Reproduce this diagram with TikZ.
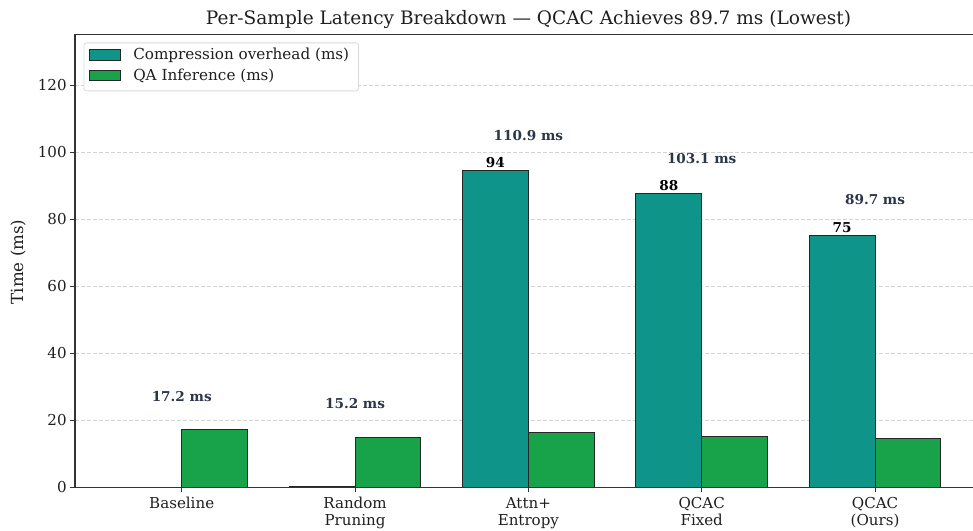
\documentclass[tikz,border=0pt]{standalone}
\usepackage{fontspec}
\setmainfont{DejaVu Serif}
\definecolor{tealbar}{HTML}{0E9488}
\definecolor{greenbar}{HTML}{18A34A}
\definecolor{totlab}{HTML}{2B3648}
\definecolor{gridc}{HTML}{D4D4D4}
\definecolor{spinec}{HTML}{333333}
\begin{document}
\begin{tikzpicture}[x=0.75pt,y=0.75pt,
  bar/.style={draw=black!85,line width=0.7pt},
  comp/.style={bar,fill=tealbar},
  qa/.style={bar,fill=greenbar},
  gridline/.style={draw=gridc,dashed,dash pattern=on 3pt off 1.5pt,line width=0.6pt},
  ticklab/.style={font=\fontsize{11.3}{13}\selectfont,text=black!88},
  totlabel/.style={font=\bfseries\fontsize{10.2}{12}\selectfont,text=totlab,anchor=base},
  vallabel/.style={font=\bfseries\fontsize{10.2}{12}\selectfont,text=black,anchor=base},
  xlab/.style={font=\fontsize{11.3}{12.8}\selectfont,text=black!88,align=center,anchor=north,inner sep=0pt}]
\useasboundingbox (0,0) rectangle (973,531);
\clip (0,0) rectangle (973,531);
\begin{scope}[shift={(181.7,43.7)},x=130pt,y=2.5125pt]
  % grid
  \foreach \v in {20,40,...,120}{\draw[gridline] (-0.616,\v) -- (4.62,\v);}
  % bars
  \draw[comp] (-0.38,0) rectangle (0,0);
  \draw[qa] (0,0) rectangle (0.38,17.2);
  \draw[comp] (0.62,0) rectangle (1,0.2);
  \draw[qa] (1,0) rectangle (1.38,15.0);
  \draw[comp] (1.62,0) rectangle (2,94.5);
  \draw[qa] (2,0) rectangle (2.38,16.4);
  \draw[comp] (2.62,0) rectangle (3,87.8);
  \draw[qa] (3,0) rectangle (3.38,15.3);
  \draw[comp] (3.62,0) rectangle (4,75.2);
  \draw[qa] (4,0) rectangle (4.38,14.5);
  % value labels
  \node[vallabel] (v2) at (1.81,95.4) {94};
  \node[vallabel] (v3) at (2.81,88.7) {88};
  \node[vallabel] (v4) at (3.81,76.1) {75};
  % totals
  \node[totlabel] (t0) at (0,25.6) {17.2 ms};
  \node[totlabel] (t1) at (1,23.5) {15.2 ms};
  \node[totlabel] (t2) at (2,103.4) {110.9 ms};
  \node[totlabel] (t3) at (3,96.6) {103.1 ms};
  \node[totlabel] (t4) at (4,84.3) {89.7 ms};
  % spines
  \draw[spinec,line width=0.9pt] (-0.616,135.2) -- (-0.616,0) -- (4.62,0);
  \draw[spinec,line width=0.9pt] (-0.616,135.2) -- (4.62,135.2);
  % y ticks
  \foreach \v in {0,20,...,120}{
    \draw[spinec,line width=0.7pt] (-0.616,\v) -- ++(-3.5pt,0);
    \node[ticklab,anchor=east,inner sep=0pt] at ([xshift=-6pt]-0.616,\v) {\v};
  }
  % x ticks
  \foreach \i in {0,...,4}{\draw[spinec,line width=0.7pt] (\i,0) -- ++(0,-3.5pt);}
  \node[xlab] (x0) at ([yshift=-7.3pt]0,0) {Baseline};
  \node[xlab] (x1) at ([yshift=-7.3pt]1,0) {Random\\Pruning};
  \node[xlab] (x2) at ([yshift=-7.3pt]2,0) {Attn+\\Entropy};
  \node[xlab] (x3) at ([yshift=-7.3pt]3,0) {QCAC\\Fixed};
  \node[xlab] (x4) at ([yshift=-7.3pt]4,0) {QCAC\\(Ours)};
\end{scope}
% y label
\node[font=\fontsize{12.5}{14}\selectfont,text=black!88,rotate=90] (ylab) at (18,531-262) {Time (ms)};
% title
\node[font=\fontsize{13.9}{16}\selectfont,text=black!88,anchor=base] (title) at (528.5,531-25) {Per-Sample Latency Breakdown — QCAC Achieves 89.7 ms (Lowest)};
% legend
\node[draw=black!15,fill=white,rounded corners=2pt,minimum width=206pt,minimum height=36pt,anchor=north west,line width=0.6pt] (leg) at (83.5,531-42.5) {};
\draw[comp] (89.5,531-49.5) rectangle (120.5,531-60.5);
\draw[qa] (89.5,531-70.5) rectangle (120.5,531-80.5);
\node[font=\fontsize{11.4}{13}\selectfont,text=black!88,anchor=west,inner sep=0pt] (l1) at (133,531-55) {Compression overhead (ms)};
\node[font=\fontsize{11.4}{13}\selectfont,text=black!88,anchor=west,inner sep=0pt] (l2) at (133,531-75.5) {QA Inference (ms)};
\end{tikzpicture}
\end{document}
